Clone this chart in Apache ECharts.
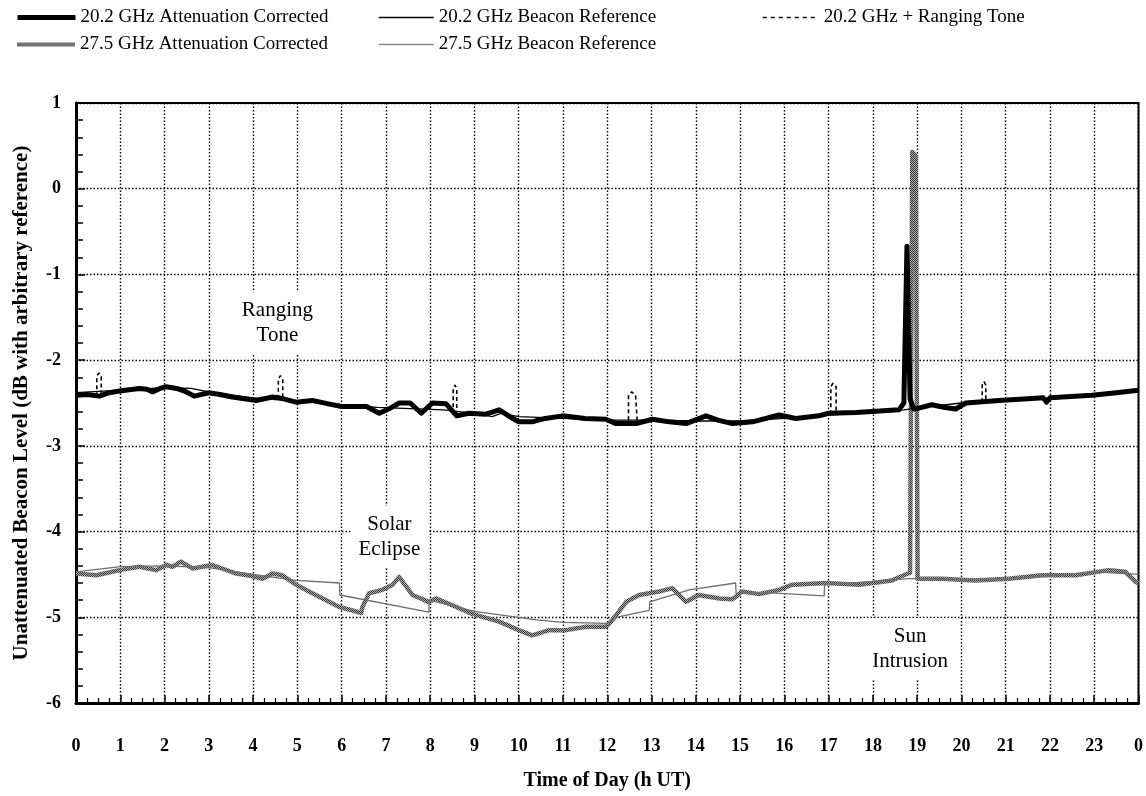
<!DOCTYPE html>
<html>
<head>
<meta charset="utf-8">
<script src="https://cdn.jsdelivr.net/npm/echarts@6/dist/echarts.min.js"></script>
<style>
  html, body { margin: 0; padding: 0; background: #fff; }
  #chart { width: 1146px; height: 796px; }
</style>
</head>
<body>
<div id="chart"></div>
<script>
// Hour labels along the x axis (the day wraps back to 0 at the right edge)
const hourLabels = ['0','1','2','3','4','5','6','7','8','9','10','11','12','13','14','15','16','17','18','19','20','21','22','23','0'];
const levelLabels = ['-6','-5','-4','-3','-2','-1','0','1'];

// 20.2 GHz beacon level, attenuation corrected  [hour, dB]
const att20 = [
  [0,-2.41],[0.25,-2.40],[0.53,-2.42],[0.75,-2.38],[0.98,-2.36],[1.43,-2.33],[1.6,-2.34],[1.73,-2.37],
  [1.9,-2.33],[2.04,-2.31],[2.27,-2.33],[2.45,-2.36],[2.67,-2.42],[3.0,-2.38],[3.25,-2.40],[3.53,-2.43],
  [4.07,-2.47],[4.44,-2.43],[4.6,-2.44],[4.97,-2.49],[5.34,-2.47],[5.7,-2.51],[6.0,-2.54],[6.56,-2.54],
  [6.85,-2.62],[7.1,-2.56],[7.3,-2.50],[7.55,-2.50],[7.8,-2.62],[8.05,-2.50],[8.36,-2.51],[8.6,-2.65],
  [8.88,-2.62],[9.26,-2.63],[9.56,-2.58],[9.8,-2.66],[10.0,-2.72],[10.3,-2.72],[10.6,-2.68],[10.99,-2.65],
  [11.5,-2.68],[11.97,-2.69],[12.2,-2.74],[12.65,-2.74],[13.02,-2.69],[13.4,-2.72],[13.78,-2.74],[14.23,-2.65],
  [14.5,-2.70],[14.83,-2.74],[15.28,-2.72],[15.88,-2.64],[16.26,-2.68],[16.78,-2.65],[17.0,-2.62],[17.62,-2.61],
  [17.98,-2.60],[18.59,-2.58],[18.70,-2.50],[18.77,-0.67],[18.84,-2.45],[18.92,-2.57],[19.04,-2.56],[19.33,-2.52],
  [19.6,-2.55],[19.87,-2.57],[20.1,-2.50],[20.85,-2.47],[21.5,-2.45],[21.85,-2.44],[21.92,-2.49],[22.0,-2.44],
  [22.95,-2.41],[23.5,-2.38],[24,-2.35]
];

// 20.2 GHz beacon reference curve
const ref20 = [
  [0,-2.38],[1,-2.35],[2,-2.32],[2.6,-2.33],[3,-2.37],[4,-2.44],[5,-2.48],[6,-2.52],[6.8,-2.55],[8.3,-2.58],
  [9,-2.62],[9.4,-2.66],[9.6,-2.62],[10,-2.66],[11,-2.68],[12,-2.70],[13,-2.70],[14,-2.71],[15,-2.71],
  [16,-2.68],[17,-2.64],[18,-2.61],[18.7,-2.58],[19.1,-2.55],[20,-2.50],[21,-2.47],[22,-2.44],[23,-2.40],[24,-2.36]
];

// 20.2 GHz level while the ranging tone is on ('-' breaks the line between bursts)
const tone20 = [
  [0.47,-2.42],[0.47,-2.18],[0.52,-2.15],[0.57,-2.19],[0.57,-2.42],[1,'-'],
  [4.57,-2.45],[4.57,-2.22],[4.62,-2.18],[4.67,-2.23],[4.67,-2.45],[5,'-'],
  [8.52,-2.63],[8.52,-2.33],[8.56,-2.29],[8.6,-2.33],[8.6,-2.64],[9,'-'],
  [12.48,-2.70],[12.48,-2.41],[12.55,-2.37],[12.64,-2.41],[12.68,-2.74],[13,'-'],
  [17.05,-2.63],[17.05,-2.31],[17.1,-2.27],[17.17,-2.31],[17.17,-2.62],[18,'-'],
  [20.47,-2.49],[20.47,-2.29],[20.51,-2.25],[20.55,-2.29],[20.55,-2.48]
];

// 27.5 GHz beacon level, attenuation corrected
const att27 = [
  [0,-4.49],[0.46,-4.51],[0.98,-4.45],[1.43,-4.41],[1.81,-4.45],[2.04,-4.39],[2.18,-4.41],[2.37,-4.35],
  [2.63,-4.43],[3.08,-4.39],[3.62,-4.49],[3.98,-4.52],[4.21,-4.55],[4.44,-4.49],[4.66,-4.51],[4.97,-4.62],
  [5.34,-4.72],[5.65,-4.80],[5.95,-4.88],[6.24,-4.92],[6.44,-4.95],[6.47,-4.88],[6.62,-4.72],[6.92,-4.68],
  [7.15,-4.62],[7.30,-4.53],[7.6,-4.74],[7.97,-4.82],[8.13,-4.78],[8.5,-4.86],[8.95,-4.96],[9.56,-5.05],
  [10.0,-5.15],[10.3,-5.21],[10.69,-5.15],[11.07,-5.15],[11.52,-5.11],[11.97,-5.11],[12.12,-5.03],[12.43,-4.82],
  [12.72,-4.74],[13.17,-4.70],[13.47,-4.66],[13.78,-4.82],[14.07,-4.74],[14.53,-4.78],[14.83,-4.79],[15.05,-4.70],
  [15.43,-4.73],[15.88,-4.68],[16.18,-4.62],[16.94,-4.60],[17.69,-4.62],[18.43,-4.57],[18.70,-4.51],[18.84,-4.48],
  [18.89,0.43],[18.97,0.38],[19.01,-4.55],[19.56,-4.55],[20.3,-4.57],[21.07,-4.55],[21.82,-4.51],[22.58,-4.51],
  [23.33,-4.45],[23.7,-4.47],[23.94,-4.59],[24,-4.60]
];

// 27.5 GHz beacon reference curve
const ref27 = [
  [0,-4.47],[1,-4.41],[2,-4.40],[3,-4.42],[4,-4.50],[4.97,-4.57],[5.95,-4.60],[5.96,-4.74],[7.97,-4.94],
  [7.98,-4.80],[9,-4.93],[10.4,-5.03],[11,-5.06],[12,-5.07],[12.2,-5.00],[12.95,-4.92],[12.96,-4.82],
  [13.85,-4.68],[14.9,-4.60],[14.91,-4.72],[15.5,-4.71],[16.9,-4.75],[16.91,-4.62],[18,-4.58],[18.8,-4.55],
  [19.1,-4.55],[20,-4.56],[21,-4.55],[22,-4.52],[23,-4.47],[24,-4.50]
];

// Text notes placed in data coordinates  [hour, dB, text]
const notes = [
  [4.55, -1.57, 'Ranging\nTone'],
  [7.08, -4.06, 'Solar\nEclipse'],
  [18.84, -5.37, 'Sun\nIntrusion']
];

const NAMES = [
  '20.2 GHz Attenuation Corrected',
  '20.2 GHz Beacon Reference',
  '20.2 GHz + Ranging Tone',
  '27.5 GHz Attenuation Corrected',
  '27.5 GHz Beacon Reference'
];

// fine grey checker used as the stroke of the 27.5 GHz trace
const pc = document.createElement('canvas');
pc.width = 2; pc.height = 2;
const pg = pc.getContext('2d');
pg.fillStyle = '#a8a8a8'; pg.fillRect(0, 0, 2, 2);
pg.fillStyle = '#3c3c3c'; pg.fillRect(0, 0, 1, 1); pg.fillRect(1, 1, 1, 1);
const greyPattern = { image: pc, repeat: 'repeat' };

const FONT = 'Liberation Serif';
const legendText = { fontFamily: FONT, fontSize: 19, color: '#000' };

function legendItem(name, left, top, width, lineStyle) {
  return {
    data: [name], left: left, top: top, itemWidth: width, itemHeight: 12, itemGap: 0,
    padding: 0, selectedMode: false, textStyle: legendText, lineStyle: lineStyle,
    itemStyle: { opacity: 0 }
  };
}

const chart = echarts.init(document.getElementById('chart'), null, { renderer: 'canvas' });

chart.setOption({
  animation: false,
  backgroundColor: '#fff',
  textStyle: { fontFamily: FONT },
  legend: [
    legendItem(NAMES[0], 15, 8, 58, { width: 5, color: '#000' }),
    legendItem(NAMES[1], 378, 8, 55, { width: 1.5, color: '#000' }),
    legendItem(NAMES[2], 762, 8, 56, { width: 1.5, color: '#000', type: [4, 4] }),
    legendItem(NAMES[3], 15, 35, 58, { width: 4, color: greyPattern }),
    legendItem(NAMES[4], 378, 35, 55, { width: 1.5, color: '#8a8a8a' })
  ],
  grid: {
    left: 76, right: 7, top: 103, bottom: 93,
    show: true, borderColor: '#000', borderWidth: 2, backgroundColor: 'transparent'
  },
  xAxis: {
    type: 'value', min: 0, max: 24, interval: 1,
    name: 'Time of Day (h UT)', nameLocation: 'middle', nameGap: 68,
    nameTextStyle: { fontFamily: FONT, fontSize: 20, fontWeight: 'bold', color: '#000' },
    axisLine: { show: true, onZero: false, lineStyle: { color: '#000', width: 3 } },
    axisTick: { show: true, inside: true, length: 8, lineStyle: { color: '#000', width: 1.5 } },
    minorTick: { show: true, splitNumber: 4, length: 5, lineStyle: { color: '#000', width: 1.2 } },
    axisLabel: {
      margin: 34, fontFamily: FONT, fontSize: 18, fontWeight: 'bold', color: '#000',
      formatter: v => hourLabels[Math.round(v)]
    },
    splitLine: { show: true, lineStyle: { color: '#000', type: [1.5, 2], width: 1.4 } }
  },
  yAxis: {
    type: 'value', min: -6, max: 1, interval: 1,
    name: 'Unattenuated Beacon Level (dB with arbitrary reference)',
    nameLocation: 'middle', nameGap: 44, nameRotate: 90,
    nameTextStyle: { fontFamily: FONT, fontSize: 21, fontWeight: 'bold', color: '#000' },
    axisLine: { show: true, onZero: false, lineStyle: { color: '#000', width: 3 } },
    axisTick: { show: true, inside: true, length: 9, lineStyle: { color: '#000', width: 1.5 } },
    minorTick: { show: true, splitNumber: 5, length: 7, lineStyle: { color: '#000', width: 1.5 } },
    axisLabel: {
      margin: 15, fontFamily: FONT, fontSize: 18, fontWeight: 'bold', color: '#000',
      formatter: v => levelLabels[Math.round(v) + 6]
    },
    splitLine: { show: true, lineStyle: { color: '#000', type: [1.5, 2], width: 1.4 } }
  },
  series: [
    {
      name: NAMES[3], type: 'line', data: att27, symbol: 'none', z: 3,
      color: greyPattern, lineStyle: { width: 4.5, color: greyPattern, join: 'round' }
    },
    {
      name: NAMES[0], type: 'line', data: att20, symbol: 'none', z: 4,
      color: '#000', lineStyle: { width: 5, color: '#000', join: 'round' }
    },
    {
      name: NAMES[4], type: 'line', data: ref27, symbol: 'none', z: 5,
      color: '#8a8a8a', lineStyle: { width: 1.3, color: '#6e6e6e' }
    },
    {
      name: NAMES[1], type: 'line', data: ref20, symbol: 'none', z: 5,
      color: '#000', lineStyle: { width: 1.3, color: '#000' }
    },
    {
      name: NAMES[2], type: 'line', data: tone20, symbol: 'none', z: 6, connectNulls: false,
      color: '#000', lineStyle: { width: 1.6, color: '#000', type: [4, 3] }
    },
    {
      name: 'notes', type: 'scatter', data: notes, symbolSize: 0, z: 2, silent: true,
      itemStyle: { opacity: 1 },
      label: {
        show: true, position: 'inside', formatter: p => p.value[2],
        fontFamily: FONT, fontSize: 21, lineHeight: 25, color: '#000', opacity: 1,
        backgroundColor: '#fff', padding: [6, 8]
      }
    }
  ]
});
</script>
</body>
</html>
